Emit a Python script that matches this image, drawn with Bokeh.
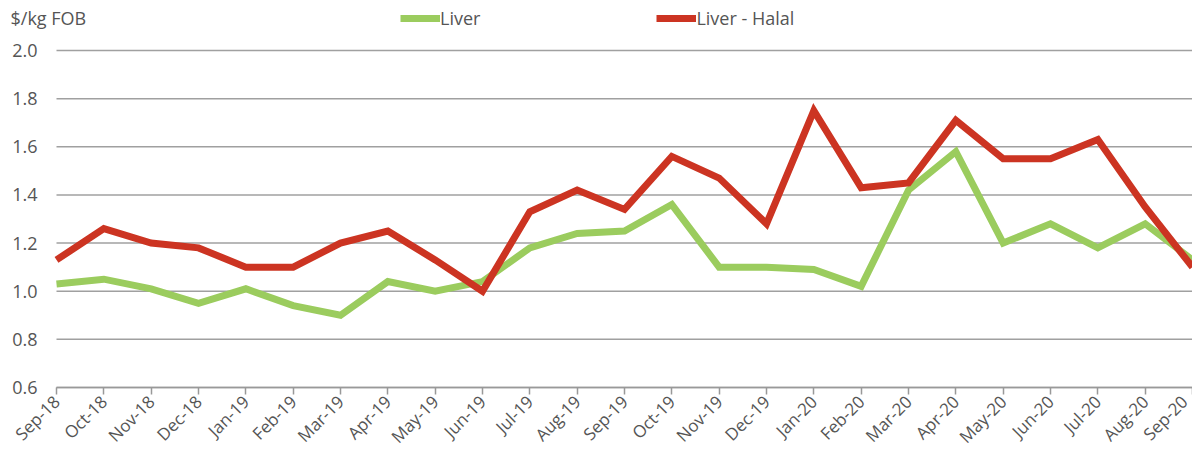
import math
from bokeh.plotting import figure
from bokeh.models import Range1d, FixedTicker, Legend, LegendItem, Label, NumeralTickFormatter
from bokeh.embed import file_html
from bokeh.resources import INLINE

months = ["Sep-18", "Oct-18", "Nov-18", "Dec-18", "Jan-19", "Feb-19", "Mar-19", "Apr-19",
          "May-19", "Jun-19", "Jul-19", "Aug-19", "Sep-19", "Oct-19", "Nov-19", "Dec-19",
          "Jan-20", "Feb-20", "Mar-20", "Apr-20", "May-20", "Jun-20", "Jul-20", "Aug-20", "Sep-20"]
liver = [1.03, 1.05, 1.01, 0.95, 1.01, 0.94, 0.90, 1.04, 1.00, 1.04, 1.18, 1.24, 1.25,
         1.36, 1.10, 1.10, 1.09, 1.02, 1.42, 1.58, 1.20, 1.28, 1.18, 1.28, 1.13]
liver_halal = [1.13, 1.26, 1.20, 1.18, 1.10, 1.10, 1.20, 1.25, 1.13, 1.00, 1.33, 1.42, 1.34,
               1.56, 1.47, 1.28, 1.75, 1.43, 1.45, 1.71, 1.55, 1.55, 1.63, 1.35, 1.10]
y_ticks = [0.6, 0.8, 1.0, 1.2, 1.4, 1.6, 1.8, 2.0]
unit_label = "$/kg FOB"

FONT = "Open Sans"
FS = "18px"
TXT = "#555555"
GREEN = "#9BCC5E"
RED = "#CC3422"
GRID = "#A0A0A0"

x = list(range(len(months)))
n_last = len(months) - 1
y_lo, y_hi = y_ticks[0], y_ticks[-1]

# The frame covers the whole canvas; both axes are drawn at fixed locations so the
# margins (unit label, legend, tick labels) stay inside the frame.
W, H = 1192, 459
PLOT_LEFT, PLOT_TOP, PLOT_BOTTOM = 56, 50, 387
x_start = -PLOT_LEFT * n_last / (W - PLOT_LEFT)
px_per_unit = (PLOT_BOTTOM - PLOT_TOP) / (y_hi - y_lo)
y_end = y_hi + PLOT_TOP / px_per_unit
y_start = y_lo - (H - PLOT_BOTTOM) / px_per_unit

p = figure(width=W, height=H, output_backend="svg", toolbar_location=None,
           x_range=Range1d(x_start, n_last), y_range=Range1d(y_start, y_end),
           min_border_left=0, min_border_right=0, min_border_top=0, min_border_bottom=0)
p.outline_line_color = None
p.background_fill_color = "white"
p.border_fill_color = "white"
p.grid.visible = False

# horizontal gridlines spanning only the category extent
p.segment(x0=[0] * len(y_ticks), x1=[n_last] * len(y_ticks), y0=y_ticks, y1=y_ticks,
          line_color=GRID, line_width=1.5)

r1 = p.line(x, liver, line_color=GREEN, line_width=7, line_join="miter")
r2 = p.line(x, liver_halal, line_color=RED, line_width=7, line_join="miter")

# x axis
p.xaxis.fixed_location = y_lo
p.xaxis.ticker = FixedTicker(ticks=x)
p.xaxis.bounds = (0, n_last)
p.xaxis.major_label_overrides = {i: m for i, m in enumerate(months)}
p.xaxis.major_label_orientation = math.pi / 4
p.xaxis.axis_line_color = "#999999"
p.xaxis.axis_line_width = 1.5
p.xaxis.major_tick_line_color = "#999999"
p.xaxis.major_tick_line_width = 1.5
p.xaxis.major_tick_out = 7
p.xaxis.major_tick_in = 0
p.xaxis.minor_tick_line_color = None
p.xaxis.major_label_text_font = FONT
p.xaxis.major_label_text_font_size = "17px"
p.xaxis.major_label_text_color = TXT
p.xaxis.major_label_standoff = 4

# y axis
p.yaxis.fixed_location = 0
p.yaxis.ticker = FixedTicker(ticks=y_ticks)
p.yaxis.formatter = NumeralTickFormatter(format="0.0")
p.yaxis.axis_line_color = None
p.yaxis.major_tick_line_color = None
p.yaxis.major_tick_out = 0
p.yaxis.major_tick_in = 0
p.yaxis.minor_tick_line_color = None
p.yaxis.major_label_text_font = FONT
p.yaxis.major_label_text_font_size = FS
p.yaxis.major_label_text_color = TXT
p.yaxis.major_label_standoff = 19

# unit label
p.add_layout(Label(x=10, y=H - 17, x_units="screen", y_units="screen", text=unit_label,
                   text_font=FONT, text_font_size=FS, text_color=TXT,
                   text_baseline="middle", text_align="left"))

# legend: top edge 10px below the canvas top
LEG_TOP, LEG_H = 10, 20
legend = Legend(items=[LegendItem(label="Liver", renderers=[r1]),
                       LegendItem(label="Liver - Halal", renderers=[r2])],
                orientation="horizontal", location=(400, H - LEG_TOP - LEG_H),
                label_text_font=FONT, label_text_font_size=FS, label_text_color=TXT,
                glyph_width=40, glyph_height=LEG_H, label_standoff=0, spacing=176,
                padding=0, margin=0, border_line_color=None, background_fill_alpha=0)
p.add_layout(legend, "center")

open("out.html", "w").write(file_html(p, INLINE))
